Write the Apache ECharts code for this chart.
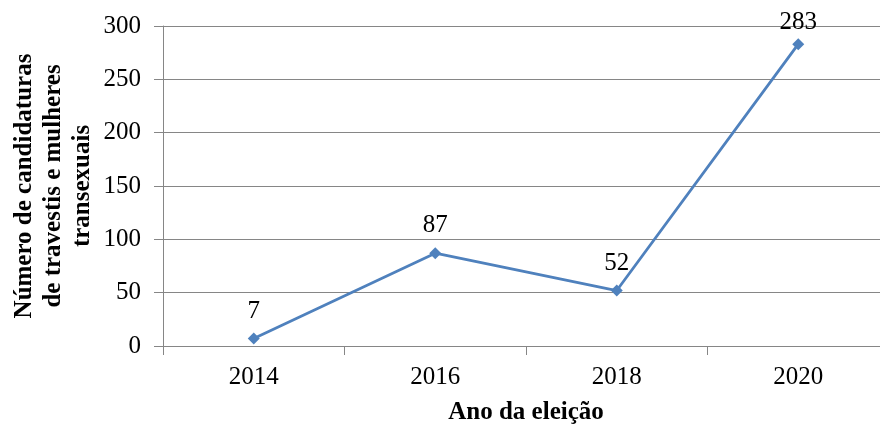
<!DOCTYPE html>
<html><head><meta charset="utf-8">
<script src="https://cdn.jsdelivr.net/npm/echarts@6/dist/echarts.min.js"></script>
<style>html,body{margin:0;padding:0;background:#fff;overflow:hidden}#c{width:880px;height:425px}</style>
</head><body><div id="c"></div>
<script>
const categories = ['2014', '2016', '2018', '2020'];
const values = [7, 87, 52, 283];
const yTitle = 'Número de candidaturas\nde travestis e mulheres\ntransexuais';
const xTitle = 'Ano da eleição';
const FONT = '"Liberation Serif", "Times New Roman", serif';
const chart = echarts.init(document.getElementById('c'), null, {renderer: 'canvas'});
const seriesData = values.map(function (v, i) {
  return i === values.length - 1 ? {value: v, label: {distance: 3}} : v;
});
chart.setOption({
  animation: false,
  backgroundColor: '#fff',
  grid: {left: 163, top: 26, width: 726, bottom: 79, containLabel: false, outerBoundsMode: 'none'},
  xAxis: {
    type: 'category', data: categories, boundaryGap: true,
    name: xTitle, nameLocation: 'middle', nameGap: 54, nameMoveOverlap: false,
    nameTextStyle: {fontFamily: FONT, fontSize: 25, fontWeight: 'bold', color: '#000'},
    axisLine: {lineStyle: {color: '#868686', width: 1}},
    axisTick: {show: true, length: 9, lineStyle: {color: '#868686'}},
    axisLabel: {fontFamily: FONT, fontSize: 25, color: '#000', margin: 19}
  },
  yAxis: {
    type: 'value', min: 0, max: 300, interval: 50,
    name: yTitle, nameLocation: 'middle', nameRotate: 90, nameGap: 66, nameMoveOverlap: false,
    nameTextStyle: {fontFamily: FONT, fontSize: 25, fontWeight: 'bold', color: '#000', lineHeight: 29},
    axisLine: {show: true, lineStyle: {color: '#868686', width: 1}},
    axisTick: {show: true, length: 9, lineStyle: {color: '#868686'}},
    axisLabel: {fontFamily: FONT, fontSize: 25, color: '#000', margin: 22},
    splitLine: {show: true, lineStyle: {color: '#868686', width: 1}}
  },
  series: [{
    type: 'line', data: seriesData,
    symbol: 'diamond', symbolSize: 12,
    lineStyle: {color: '#4f81bd', width: 2.8},
    itemStyle: {color: '#4f81bd'},
    label: {show: true, position: 'top', distance: 9, fontFamily: FONT, fontSize: 25, color: '#000'}
  }]
});
</script></body></html>
